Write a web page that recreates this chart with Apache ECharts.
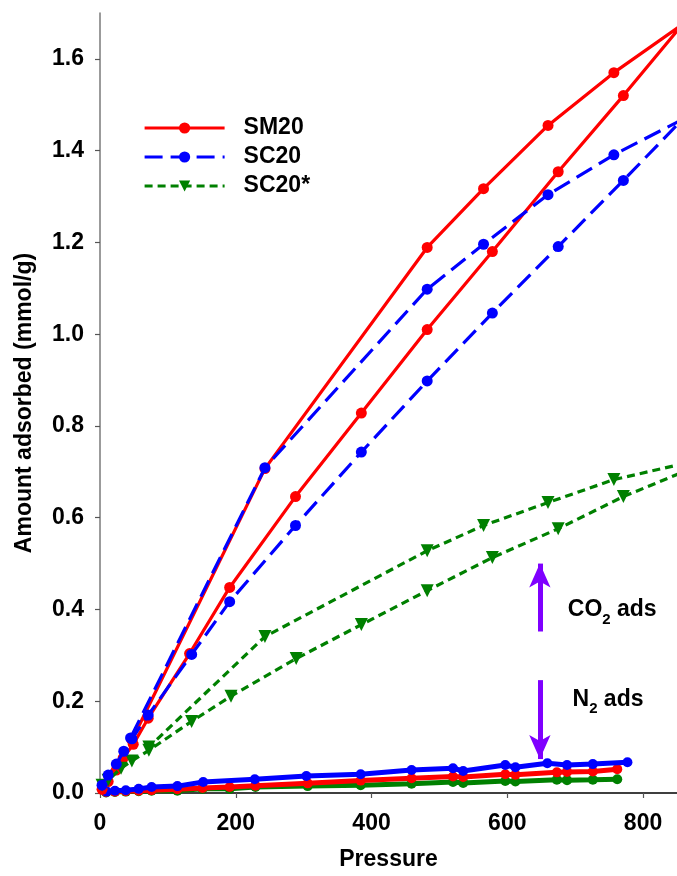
<!DOCTYPE html>
<html><head><meta charset="utf-8">
<script src="https://cdn.jsdelivr.net/npm/echarts@6/dist/echarts.min.js"></script>
<style>html,body{margin:0;padding:0;background:#fff}#c{width:677px;height:876px}</style>
</head><body><div id="c"></div>
<script>
const xTicks = [0, 200, 400, 600, 800];
const yTicks = [0, 0.2, 0.4, 0.6, 0.8, 1.0, 1.2, 1.4, 1.6];
const legendNames = ['SM20', 'SC20', 'SC20*'];

// CO2 isotherms: adsorption branch then desorption branch, [pressure, amount]
const sm20CO2Ads = [[3,0.008],[12,0.025],[24,0.05],[34,0.076],[49,0.106],[71,0.163],[132,0.304],[191,0.448],[288,0.646],[385,0.828],[482,1.01],[578,1.18],[675,1.354],[771,1.52],[858,1.675]];
const sm20CO2Des = [[757,1.57],[660,1.455],[565,1.317],[482,1.189],[243,0.707],[47,0.115]];
const sc20CO2Ads = [[3,0.017],[12,0.039],[24,0.063],[35,0.091],[47,0.118],[71,0.17],[135,0.302],[191,0.417],[288,0.583],[385,0.743],[482,0.898],[578,1.046],[675,1.191],[771,1.335],[858,1.468]];
const sc20CO2Des = [[757,1.391],[660,1.304],[565,1.196],[482,1.098],[243,0.709],[45,0.12]];
const sc20sCO2Ads = [[3,0.017],[12,0.028],[31,0.054],[47,0.07],[72,0.093],[135,0.156],[193,0.211],[289,0.293],[385,0.367],[482,0.441],[578,0.513],[675,0.576],[771,0.646],[925,0.74]];
const sc20sCO2Des = [[757,0.683],[660,0.633],[565,0.583],[482,0.528],[243,0.341],[72,0.1]];

// N2 isotherms
const sc20N2 = [[10,0.003],[22,0.005],[38,0.006],[57,0.009],[76,0.013],[114,0.015],[152,0.024],[228,0.030],[304,0.037],[384,0.041],[459,0.05],[520,0.054],[535,0.048],[597,0.061],[612,0.056],[659,0.065],[688,0.061],[726,0.063],[777,0.067]];
const sm20N2 = [[9,0.002],[22,0.003],[38,0.004],[57,0.005],[76,0.006],[114,0.008],[151,0.011],[191,0.013],[229,0.016],[306,0.021],[384,0.027],[459,0.032],[520,0.036],[535,0.035],[597,0.041],[612,0.040],[673,0.045],[688,0.046],[726,0.047],[762,0.052]];
const sc20sN2 = [[9,0.001],[22,0.002],[38,0.003],[57,0.004],[76,0.005],[114,0.005],[151,0.009],[191,0.009],[229,0.013],[306,0.015],[384,0.017],[459,0.02],[520,0.024],[535,0.022],[597,0.026],[612,0.025],[673,0.029],[688,0.028],[726,0.029],[762,0.030]];

// annotation arrows (pressure, from amount, to amount)
const co2Arrow = [648, 0.352, 0.5];
const n2Arrow = [648, 0.246, 0.074];
const co2Label = [681, 0.399];
const n2Label = [688, 0.203];

const FONT = '"Liberation Sans", Arial, sans-serif';
const RED = '#ff0000', BLUE = '#0000ff', GREEN = '#008000', PURPLE = '#7f00ff';

function co2Series(name, data, color, dash, symbol, rot, size, z) {
  return {
    name: name, type: 'line', data: data, z: z,
    symbol: symbol, symbolSize: size, symbolRotate: rot,
    lineStyle: { color: color, width: 3.2, type: dash },
    itemStyle: { color: color },
    clip: true
  };
}
function n2Series(name, data, color, z) {
  return {
    name: name, type: 'line', data: data, z: z,
    symbol: 'circle', symbolSize: 10,
    lineStyle: { color: color, width: 5, type: 'solid' },
    itemStyle: { color: color },
    clip: true
  };
}

const chart = echarts.init(document.getElementById('c'));
const tickFmt1 = v => v.toFixed(1);
chart.setOption({
  animation: false,
  backgroundColor: '#fff',
  textStyle: { fontFamily: FONT },
  grid: { left: 100, right: 0, top: 13, bottom: 81, containLabel: false },
  legend: {
    data: legendNames,
    left: 143, top: 115, orient: 'vertical', padding: 0,
    itemWidth: 80, itemHeight: 14, itemGap: 3,
    lineStyle: { width: 3.2 },
    textStyle: { fontFamily: FONT, fontWeight: 'bold', fontSize: 23, color: '#000', lineHeight: 26, padding: [0, 0, 0, 14] },
    selectedMode: false
  },
  xAxis: [{
    type: 'value', min: 0, max: 850, interval: 200,
    name: 'Pressure', nameLocation: 'middle', nameGap: 55,
    nameTextStyle: { fontFamily: FONT, fontWeight: 'bold', fontSize: 23, color: '#000' },
    axisLine: { show: true, onZero: false, lineStyle: { color: '#7a7a7a', width: 1.5 } },
    axisTick: { show: true, length: 5, customValues: xTicks, lineStyle: { color: '#555', width: 1.2 } },
    axisLabel: { customValues: xTicks, margin: 19, fontFamily: FONT, fontWeight: 'bold', fontSize: 23, color: '#000' },
    splitLine: { show: false }
  }, {
    type: 'value', min: 0, max: 850, position: 'top',
    axisLine: { show: true, lineStyle: { color: '#222', width: 1.5 } },
    axisTick: { show: false }, axisLabel: { show: false }, splitLine: { show: false }
  }],
  yAxis: {
    type: 'value', min: 0, max: 1.7, interval: 0.2,
    name: 'Amount adsorbed (mmol/g)', nameLocation: 'middle', nameGap: 64,
    nameTextStyle: { fontFamily: FONT, fontWeight: 'bold', fontSize: 23, color: '#000' },
    axisLine: { show: true, lineStyle: { color: '#7a7a7a', width: 1.5 } },
    axisTick: { show: true, length: 5, customValues: yTicks, lineStyle: { color: '#555', width: 1.2 } },
    axisLabel: { customValues: yTicks, formatter: tickFmt1, margin: 16, fontFamily: FONT, fontWeight: 'bold', fontSize: 23, color: '#000' },
    splitLine: { show: false }
  },
  series: [
    n2Series('SC20* N2', sc20sN2, GREEN, 2),
    n2Series('SM20 N2', sm20N2, RED, 3),
    n2Series('SC20 N2', sc20N2, BLUE, 4),
    co2Series('SM20', sm20CO2Ads.concat(sm20CO2Des), RED, 'solid', 'circle', 0, 11, 5),
    Object.assign(co2Series('SC20*', sc20sCO2Ads.concat(sc20sCO2Des), GREEN, [8, 5], 'triangle', 180, 13, 6), {
      markLine: {
        silent: true, symbol: ['none', 'arrow'], symbolSize: [16, 24],
        label: { show: false },
        lineStyle: { color: PURPLE, width: 5, type: 'solid' },
        emphasis: { disabled: true },
        data: [
          [{ coord: [co2Arrow[0], co2Arrow[1]] }, { coord: [co2Arrow[0], co2Arrow[2]] }],
          [{ coord: [n2Arrow[0], n2Arrow[1]] }, { coord: [n2Arrow[0], n2Arrow[2]] }]
        ]
      },
      markPoint: {
        silent: true, symbol: 'circle', symbolSize: 1,
        itemStyle: { color: 'rgba(0,0,0,0)' },
        label: {
          show: true, position: 'right', distance: 5,
          rich: {
            m: { fontFamily: FONT, fontWeight: 'bold', fontSize: 23, color: '#000', lineHeight: 34, verticalAlign: 'middle' },
            s: { fontFamily: FONT, fontWeight: 'bold', fontSize: 15, color: '#000', lineHeight: 15, verticalAlign: 'bottom' }
          }
        },
        data: [
          { coord: co2Label, label: { formatter: () => '{m|CO}{s|2}{m| ads}' } },
          { coord: n2Label, label: { formatter: () => '{m|N}{s|2}{m| ads}' } }
        ]
      }
    }),
    co2Series('SC20', sc20CO2Ads.concat(sc20CO2Des), BLUE, [18, 8], 'circle', 0, 11, 7)
  ]
});
</script></body></html>
